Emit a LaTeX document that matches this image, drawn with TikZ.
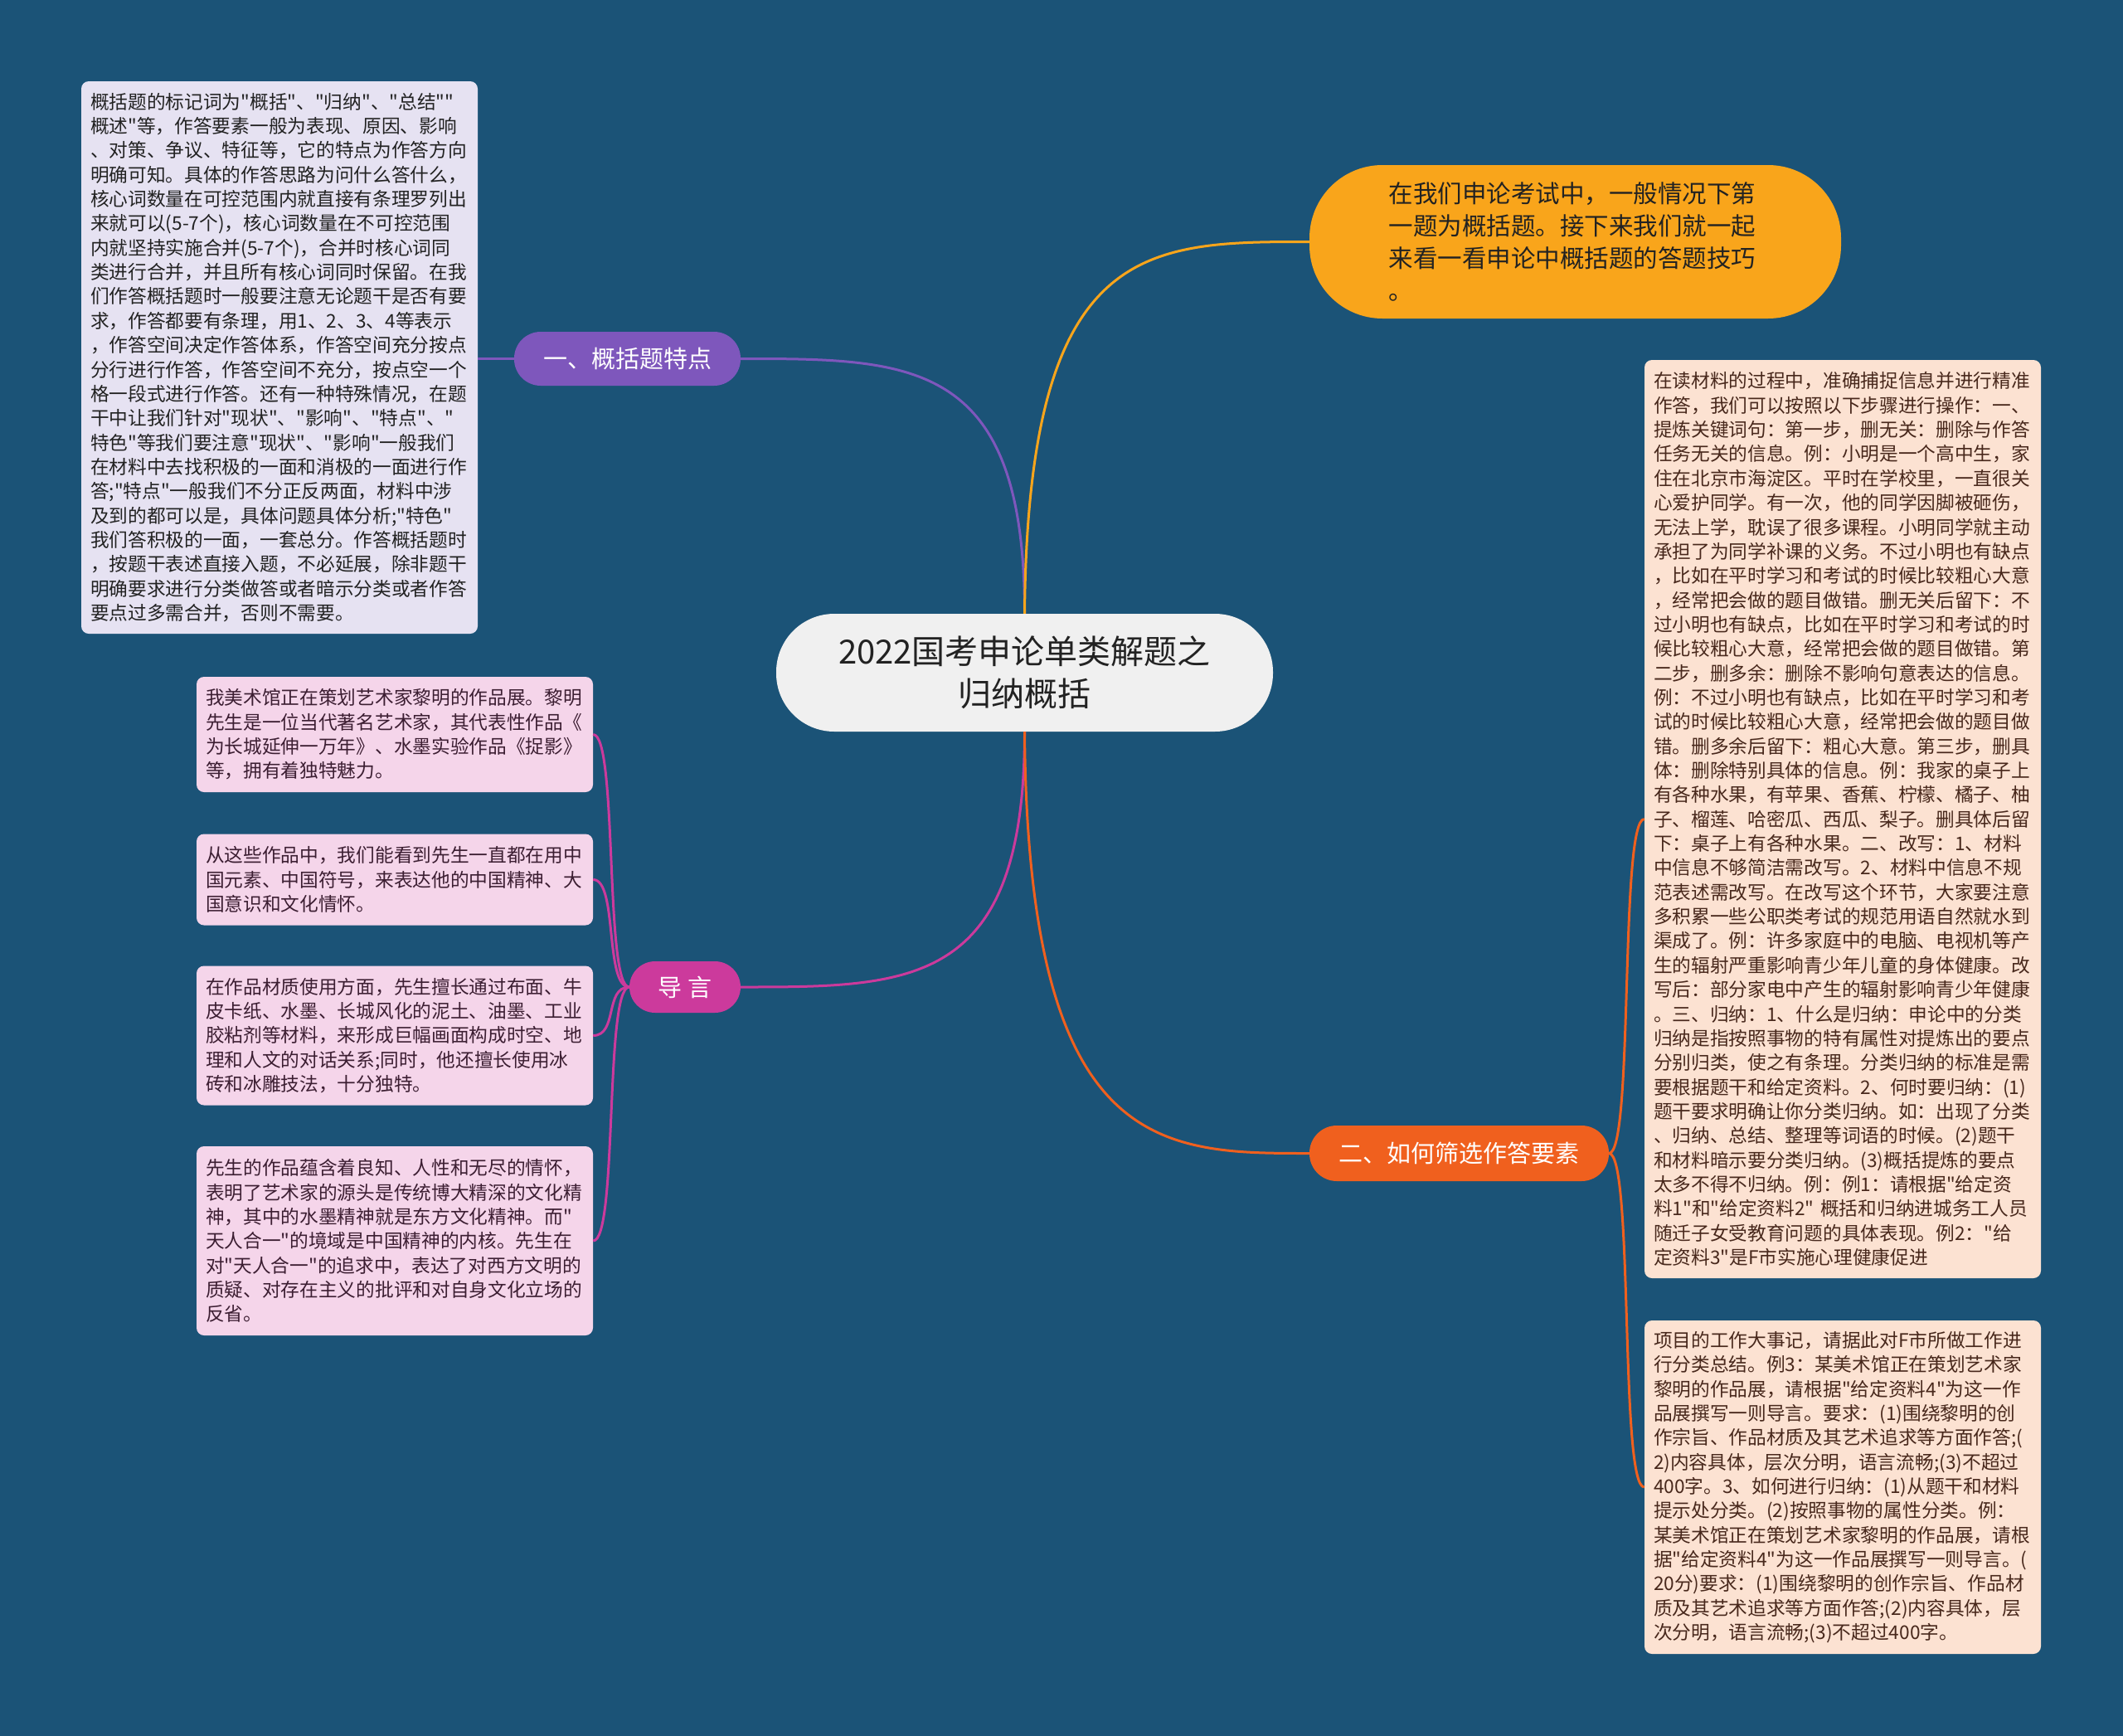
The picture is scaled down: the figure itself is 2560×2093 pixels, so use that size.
\documentclass[tikz,border=0pt]{standalone}
\usepackage{fontspec}
\setmainfont{Noto Sans CJK SC}[Ligatures=TeXOff]
\definecolor{bg}{RGB}{27,83,119}
\definecolor{centerfill}{RGB}{240,240,240}
\definecolor{orangey}{RGB}{249,165,27}
\definecolor{purp}{RGB}{126,87,188}
\definecolor{magen}{RGB}{204,58,156}
\definecolor{orred}{RGB}{240,96,30}
\definecolor{lavender}{RGB}{230,226,242}
\definecolor{pinkbox}{RGB}{245,213,234}
\definecolor{peach}{RGB}{252,226,210}
\definecolor{darktext}{RGB}{34,34,34}
\definecolor{pinktext}{RGB}{60,30,50}
\definecolor{peachtext}{RGB}{72,40,28}
\newcommand\bodyfnt{\fontsize{22.7pt}{29.35pt}\selectfont\parindent=0pt}
\newcommand\centerfnt{\fontsize{40pt}{51pt}\selectfont}
\newcommand\orangefnt{\fontsize{29.5pt}{39pt}\selectfont\parindent=0pt}
\newcommand\labelfnt{\fontsize{29pt}{35pt}\selectfont}
\tikzset{
  textbox/.style={rectangle, rounded corners=9pt, inner xsep=11pt, inner ysep=0pt,
    text width=456pt, align=left, font=\bodyfnt},
  pill/.style={rectangle, align=center, inner sep=0pt},
  conn/.style={line width=3pt},
}
\begin{document}
\begin{tikzpicture}[x=1pt,y=-1pt]
\fill[bg] (0,0) rectangle (2560,2093);

% central topic
\node[pill, fill=centerfill, text=darktext, minimum width=599pt, minimum height=142pt,
  rounded corners=70pt, font=\centerfnt] (c) at (1235.5,811) {2022国考申论单类解题之\\归纳概括};

% intro (orange)
\node[rectangle, fill=orangey, text=darktext, rounded corners=88pt, minimum width=641pt,
  minimum height=185pt, text width=450pt, align=left, inner sep=0pt, font=\orangefnt] (o) at (1899.5,291.5)
  {在我们申论考试中，一般情况下第\\一题为概括题。接下来我们就一起\\来看一看申论中概括题的答题技巧\\。};

% branch labels
\node[pill, fill=purp, text=white, rounded corners=32pt, minimum width=273pt, minimum height=65pt,
  font=\labelfnt] (p) at (756.5,432.5) {一、概括题特点};
\node[pill, fill=magen, text=white, rounded corners=31pt, minimum width=134pt, minimum height=62pt,
  font=\labelfnt] (d) at (826,1190) {导 言};
\node[pill, fill=orred, text=white, rounded corners=33pt, minimum width=361pt, minimum height=67pt,
  font=\labelfnt] (e) at (1759.5,1390.5) {二、如何筛选作答要素};

% top-left box
\node[textbox, fill=lavender, text=darktext, minimum height=666pt] (tl) at (337,431) {概括题的标记词为"概括"、"归纳"、"总结""\\
概述"等，作答要素一般为表现、原因、影响\\
、对策、争议、特征等，它的特点为作答方向\\
明确可知。具体的作答思路为问什么答什么，\\
核心词数量在可控范围内就直接有条理罗列出\\
来就可以(5-7个)，核心词数量在不可控范围\\
内就坚持实施合并(5-7个)，合并时核心词同\\
类进行合并，并且所有核心词同时保留。在我\\
们作答概括题时一般要注意无论题干是否有要\\
求，作答都要有条理，用1、2、3、4等表示\\
，作答空间决定作答体系，作答空间充分按点\\
分行进行作答，作答空间不充分，按点空一个\\
格一段式进行作答。还有一种特殊情况，在题\\
干中让我们针对"现状"、"影响"、"特点"、"\\
特色"等我们要注意"现状"、"影响"一般我们\\
在材料中去找积极的一面和消极的一面进行作\\
答;"特点"一般我们不分正反两面，材料中涉\\
及到的都可以是，具体问题具体分析;"特色"\\
我们答积极的一面，一套总分。作答概括题时\\
，按题干表述直接入题，不必延展，除非题干\\
明确要求进行分类做答或者暗示分类或者作答\\
要点过多需合并，否则不需要。};

% left pink boxes
\node[textbox, fill=pinkbox, text=pinktext, minimum height=139pt] (l1) at (476,885.5) {我美术馆正在策划艺术家黎明的作品展。黎明\\
先生是一位当代著名艺术家，其代表性作品《\\
为长城延伸一万年》、水墨实验作品《捉影》\\
等，拥有着独特魅力。};
\node[textbox, fill=pinkbox, text=pinktext, minimum height=110pt] (l2) at (476,1060.5) {从这些作品中，我们能看到先生一直都在用中\\
国元素、中国符号，来表达他的中国精神、大\\
国意识和文化情怀。};
\node[textbox, fill=pinkbox, text=pinktext, minimum height=168pt] (l3) at (476,1248.5) {在作品材质使用方面，先生擅长通过布面、牛\\
皮卡纸、水墨、长城风化的泥土、油墨、工业\\
胶粘剂等材料，来形成巨幅画面构成时空、地\\
理和人文的对话关系;同时，他还擅长使用冰\\
砖和冰雕技法，十分独特。};
\node[textbox, fill=pinkbox, text=pinktext, minimum height=228pt] (l4) at (476,1496) {先生的作品蕴含着良知、人性和无尽的情怀，\\
表明了艺术家的源头是传统博大精深的文化精\\
神，其中的水墨精神就是东方文化精神。而"\\
天人合一"的境域是中国精神的内核。先生在\\
对"天人合一"的追求中，表达了对西方文明的\\
质疑、对存在主义的批评和对自身文化立场的\\
反省。};

% right peach boxes
\node[textbox, fill=peach, text=peachtext, minimum height=1107pt] (ra) at (2222,987.5) {在读材料的过程中，准确捕捉信息并进行精准\\
作答，我们可以按照以下步骤进行操作：一、\\
提炼关键词句：第一步，删无关：删除与作答\\
任务无关的信息。例：小明是一个高中生，家\\
住在北京市海淀区。平时在学校里，一直很关\\
心爱护同学。有一次，他的同学因脚被砸伤，\\
无法上学，耽误了很多课程。小明同学就主动\\
承担了为同学补课的义务。不过小明也有缺点\\
，比如在平时学习和考试的时候比较粗心大意\\
，经常把会做的题目做错。删无关后留下：不\\
过小明也有缺点，比如在平时学习和考试的时\\
候比较粗心大意，经常把会做的题目做错。第\\
二步，删多余：删除不影响句意表达的信息。\\
例：不过小明也有缺点，比如在平时学习和考\\
试的时候比较粗心大意，经常把会做的题目做\\
错。删多余后留下：粗心大意。第三步，删具\\
体：删除特别具体的信息。例：我家的桌子上\\
有各种水果，有苹果、香蕉、柠檬、橘子、柚\\
子、榴莲、哈密瓜、西瓜、梨子。删具体后留\\
下：桌子上有各种水果。二、改写：1、材料\\
中信息不够简洁需改写。2、材料中信息不规\\
范表述需改写。在改写这个环节，大家要注意\\
多积累一些公职类考试的规范用语自然就水到\\
渠成了。例：许多家庭中的电脑、电视机等产\\
生的辐射严重影响青少年儿童的身体健康。改\\
写后：部分家电中产生的辐射影响青少年健康\\
。三、归纳：1、什么是归纳：申论中的分类\\
归纳是指按照事物的特有属性对提炼出的要点\\
分别归类，使之有条理。分类归纳的标准是需\\
要根据题干和给定资料。2、何时要归纳：(1)\\
题干要求明确让你分类归纳。如：出现了分类\\
、归纳、总结、整理等词语的时候。(2)题干\\
和材料暗示要分类归纳。(3)概括提炼的要点\\
太多不得不归纳。例：例1：请根据"给定资\\
料1"和"给定资料2"~概括和归纳进城务工人员\\
随迁子女受教育问题的具体表现。例2："给\\
定资料3"是F市实施心理健康促进};
\node[textbox, fill=peach, text=peachtext, minimum height=402pt] (rb) at (2222,1793) {项目的工作大事记，请据此对F市所做工作进\\
行分类总结。例3：某美术馆正在策划艺术家\\
黎明的作品展，请根据"给定资料4"为这一作\\
品展撰写一则导言。要求：(1)围绕黎明的创\\
作宗旨、作品材质及其艺术追求等方面作答;(\\
2)内容具体，层次分明，语言流畅;(3)不超过\\
400字。3、如何进行归纳：(1)从题干和材料\\
提示处分类。(2)按照事物的属性分类。例：\\
某美术馆正在策划艺术家黎明的作品展，请根\\
据"给定资料4"为这一作品展撰写一则导言。(\\
20分)要求：(1)围绕黎明的创作宗旨、作品材\\
质及其艺术追求等方面作答;(2)内容具体，层\\
次分明，语言流畅;(3)不超过400字。};

% connectors
\draw[conn, purp] (c.north) .. controls +(0,-307) and +(207,0) .. (p.east);
\draw[conn, orangey] (c.north) .. controls +(4,-448) and +(-199,0) .. (o.west);
\draw[conn, magen] (c.south) .. controls +(0,308) and +(207,0) .. (d.east);
\draw[conn, orred] (c.south) .. controls +(4,508) and +(-180,0) .. (e.west);

\draw[conn, purp] (p.west) -- (p.west -| tl.east);

\foreach \b in {l1,l2,l3,l4}{
  \draw[conn, magen] (d.west) .. controls +(-30,0) and +(30,0) .. (\b.east);
}
\foreach \b in {ra,rb}{
  \draw[conn, orred] (e.east) .. controls +(30,0) and +(-30,0) .. (\b.west);
}
\end{tikzpicture}
\end{document}
